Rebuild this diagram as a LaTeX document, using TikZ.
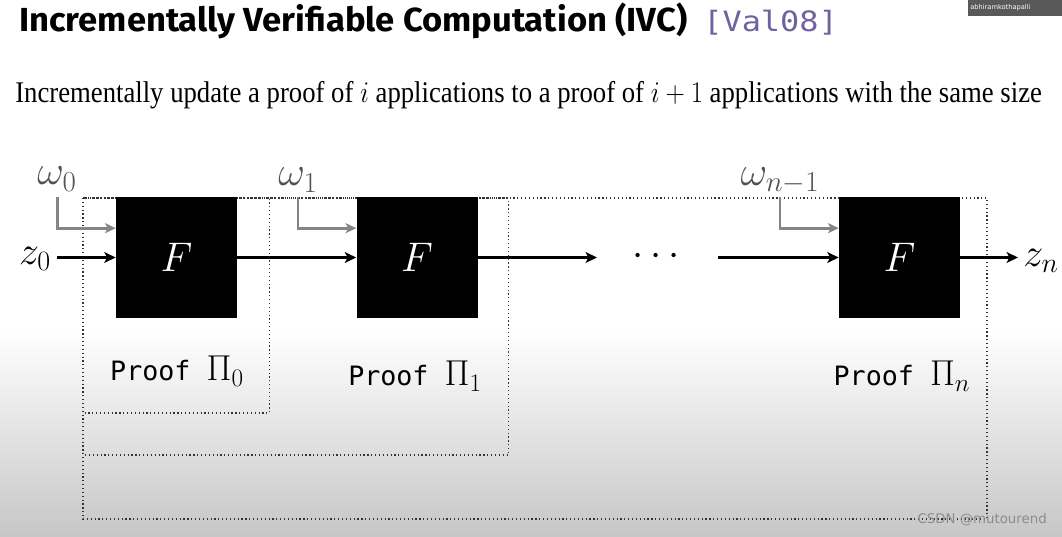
\RequirePackage{fix-cm}
\documentclass[tikz,border=0pt]{standalone}
\usepackage[no-math]{fontspec}
\setmainfont{Liberation Serif}
\setmonofont{DejaVu Sans Mono}
\newfontfamily\titlefont{Fira Sans}
\newfontfamily\wmfont{DejaVu Sans}
\usetikzlibrary{arrows.meta}
\definecolor{citepurple}{RGB}{112,98,160}
\newcommand{\pimath}[1]{{\fontsize{27}{30}\selectfont$\Pi_{#1}$}}
\tikzset{
  fbox/.style={fill=black, minimum width=90.75pt, minimum height=90.75pt, inner sep=0pt, text=white, font=\fontsize{31}{31}\selectfont},
  mainarrow/.style={line width=2pt, draw=black, -{Stealth[length=8.5pt,width=8pt,inset=2pt]}},
  warrow/.style={line width=2pt, draw=black!48, -{Stealth[length=8pt,width=7.5pt,inset=2pt]}},
  proofbox/.style={dotted, line width=0.9pt, draw=black!80},
  mlbl/.style={font=\fontsize{30}{30}\selectfont, inner sep=0pt},
  wlbl/.style={font=\fontsize{31}{31}\selectfont, inner sep=0pt, text=black!68},
  prooflbl/.style={font=\fontsize{20}{24}\selectfont, inner sep=0pt},
}
\begin{document}
\begin{tikzpicture}[x=0.75pt,y=-0.75pt]
\useasboundingbox (0,0) rectangle (1062,536);
% background
\fill[white] (0,0) rectangle (1062,330);
\shade[top color=white, bottom color=black!22] (0,330) rectangle (1062,536);
% overlay top right
\fill[black!65] (968,0) rectangle (1062,16);
\node[anchor=west, inner sep=0pt, text=white, font=\wmfont\fontsize{5}{6}\selectfont] (cam) at (970,8) {abhiramkothapalli};
% title
\node[anchor=base west, inner sep=0pt] (title) at (19,31) {\resizebox{501pt}{\height}{\titlefont\bfseries\fontsize{25}{30}\selectfont Incrementally Verifiable Computation (IVC)}};
\node[anchor=base west, inner sep=0pt, text=citepurple] (cite) at (703,31) {\resizebox{101pt}{\height}{\ttfamily\fontsize{21}{24}\selectfont [Val08]}};
% subtitle
\node[anchor=base west, inner sep=0pt] (sub) at (15,102) {\resizebox{770pt}{\height}{\fontsize{22.5}{26}\selectfont Incrementally update a proof of $i$ applications to a proof of $i+1$ applications with the same size}};
% proof boxes
\draw[proofbox] (83,198) rectangle (987,519);
\draw[proofbox] (83,198) rectangle (508.5,455);
\draw[proofbox] (83,198) rectangle (269.5,413);
% F boxes
\node[fbox] (F1) at (176.5,257.5) {$F$};
\node[fbox] (F2) at (417,257.5) {$F$};
\node[fbox] (F3) at (899.5,257.5) {$F$};
% labels
\node[mlbl] (z0) at (35,259) {$z_0$};
\node[mlbl] (zn) at (1041,261) {$z_n$};
\node[wlbl] (w0) at (57,179) {$\omega_0$};
\node[wlbl] (w1) at (298,180) {$\omega_1$};
\node[wlbl] (wn) at (780,181) {$\omega_{n-1}$};
\node[mlbl] (dots) at (656,257) {$\cdots$};
\coordinate (z0s) at (57,257.5);
\coordinate (e2) at (597,257.5);
\coordinate (s3) at (718,257.5);
\coordinate (zne) at (1018,257.5);
\coordinate (w0s) at (57.5,197);
\coordinate (w1s) at (298,197);
\coordinate (wns) at (780,197);
% main arrows
\draw[mainarrow] (z0s) -- (F1.west);
\draw[mainarrow] (F1.east) -- (F2.west);
\draw[mainarrow] (F2.east) -- (e2);
\draw[mainarrow] (s3) -- (F3.west);
\draw[mainarrow] (F3.east) -- (zne);
% witness arrows
\draw[warrow] (w0s) |- ([yshift=22pt]F1.west);
\draw[warrow] (w1s) |- ([yshift=22pt]F2.west);
\draw[warrow] (wns) |- ([yshift=22pt]F3.west);
% proof labels
\node[prooflbl] (p0) at (177,371) {\texttt{Proof~}\pimath{0}};
\node[prooflbl] (p1) at (415,376) {\texttt{Proof~}\pimath{1}};
\node[prooflbl] (pn) at (902,376) {\texttt{Proof~}\pimath{n}};
% watermark
\node[anchor=east, inner sep=0pt, text=black!45, font=\wmfont\fontsize{10}{12}\selectfont] (wm) at (1047,520) {CSDN @mutourend};
\end{tikzpicture}
\end{document}
